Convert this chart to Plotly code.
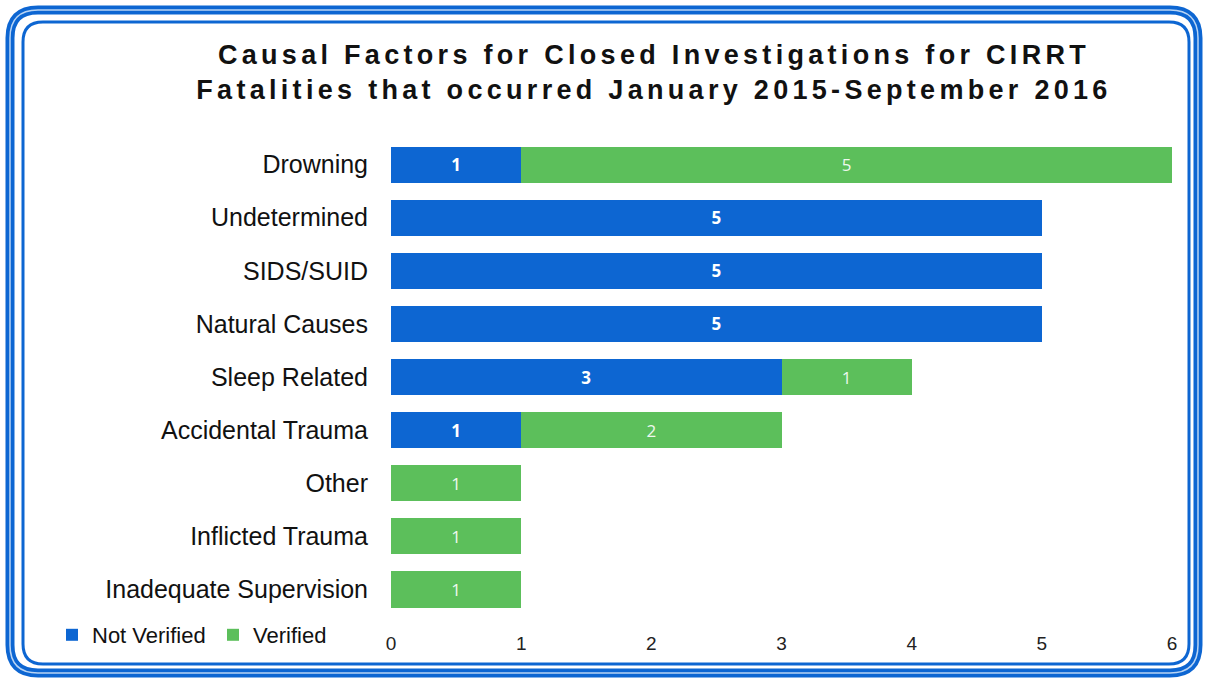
import plotly.graph_objects as go

categories = ["Drowning", "Undetermined", "SIDS/SUID", "Natural Causes", "Sleep Related",
              "Accidental Trauma", "Other", "Inflicted Trauma", "Inadequate Supervision"]
not_verified = [1, 5, 5, 5, 3, 1, None, None, None]
verified = [5, None, None, None, 1, 2, 1, 1, 1]
x_ticks = [0, 1, 2, 3, 4, 5, 6]

W, H = 1207, 681
L, R, T, B = 391, 35, 138, 65
PW, PH = W - L - R, H - T - B

def px(x):
    return (x - L) / PW

def py(y):
    return (H - B - y) / PH

def rrect(x0, y0, x1, y1, r):
    def p(x, y):
        return f"{px(x):.5f},{py(y):.5f}"
    return (f"M {p(x0 + r, y0)} L {p(x1 - r, y0)} Q {p(x1, y0)} {p(x1, y0 + r)} "
            f"L {p(x1, y1 - r)} Q {p(x1, y1)} {p(x1 - r, y1)} "
            f"L {p(x0 + r, y1)} Q {p(x0, y1)} {p(x0, y1 - r)} "
            f"L {p(x0, y0 + r)} Q {p(x0, y0)} {p(x0 + r, y0)} Z")

BLUE = "#0d66d2"
GREEN = "#5cbf5b"

fig = go.Figure()
fig.add_trace(go.Bar(
    y=categories, x=not_verified, orientation="h", name="Not Verified",
    marker=dict(color=BLUE, line=dict(width=0)),
    text=not_verified, texttemplate="%{x}", textposition="inside",
    insidetextanchor="middle",
    textfont=dict(family="Open Sans", size=17, color="white", weight="bold"),
))
fig.add_trace(go.Bar(
    y=categories, x=verified, orientation="h", name="Verified",
    marker=dict(color=GREEN, line=dict(width=0)),
    text=verified, texttemplate="%{x}", textposition="inside",
    insidetextanchor="middle",
    textfont=dict(family="Open Sans", size=17, color="#eef8ee"),
))

shapes = [
    dict(type="path", xref="paper", yref="paper", path=rrect(10, 10, 1198, 673, 28),
         line=dict(color=BLUE, width=9), layer="above"),
    dict(type="path", xref="paper", yref="paper", path=rrect(10, 10, 1198, 673, 28),
         line=dict(color="#b8d4f4", width=1.5), layer="above"),
    dict(type="path", xref="paper", yref="paper", path=rrect(23, 22, 1189, 664, 20),
         line=dict(color=BLUE, width=3), layer="above"),
]

fig.update_layout(
    width=W, height=H,
    margin=dict(l=L, r=R, t=T, b=B),
    paper_bgcolor="white", plot_bgcolor="white",
    barmode="stack", bargap=0.32,
    title=dict(
        text="Causal Factors for Closed Investigations for CIRRT<br>Fatalities that occurred January 2015-September 2016",
        x=654 / W, xanchor="center", xref="container",
        y=1 - 64 / H, yanchor="top", yref="container",
        font=dict(family="Liberation Sans", size=27, color="#111111", weight="bold"),
    ),
    font=dict(family="Liberation Sans", color="#222222"),
    showlegend=True,
    legend=dict(
        orientation="h", x=px(52), xanchor="left", y=py(635), yanchor="middle",
        font=dict(family="Liberation Sans", size=22, color="#111111"),
        itemwidth=30, traceorder="normal", bgcolor="rgba(0,0,0,0)",
        entrywidth=116, entrywidthmode="pixels",
    ),
    xaxis=dict(
        range=[0, 6], tickvals=x_ticks, ticktext=[str(v) for v in x_ticks],
        showgrid=False, zeroline=False, showline=False, ticks="",
        tickfont=dict(family="Liberation Sans", size=19, color="#222222"),
        ticklabelstandoff=14,
    ),
    yaxis=dict(
        autorange="reversed", showgrid=False, zeroline=False, showline=False, ticks="",
        tickfont=dict(family="Liberation Sans", size=25, color="#111111"),
        ticklabelstandoff=22,
    ),
    shapes=shapes,
)

post = """
document.body.style.margin = '0';
function fixTitle() {
  document.querySelectorAll('.gtitle').forEach(function(e) { e.style.letterSpacing = '4.3px'; });
}
fixTitle();
setTimeout(fixTitle, 0);
var gd = document.getElementById('{plot_id}');
if (gd && gd.on) { gd.on('plotly_afterplot', fixTitle); }
"""

fig.write_html("out.html", post_script=post, config={"displayModeBar": False})
